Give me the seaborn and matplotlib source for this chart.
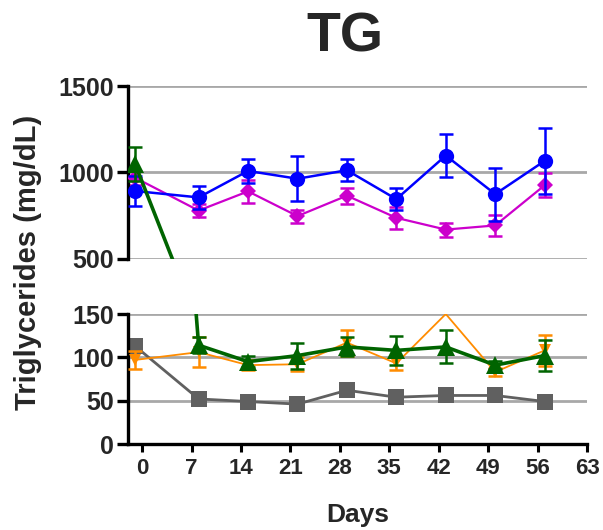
import numpy as np
import pandas as pd
import matplotlib
matplotlib.use("Agg")
import matplotlib.pyplot as plt
import seaborn as sns

# Sampling days and group means / error values (mg/dL)
days = [-1, 8, 15, 22, 29, 36, 43, 50, 57]

gray_mean = [113, 52, 49, 46, 62, 54, 56, 56, 49]
gray_err = [5, 3, 3, 3, 4, 3, 3, 3, 3]

orange_mean = [97, 106, 91, 92, 117, 93, 150, 83, 108]
orange_err = [10, 17, 6, 8, 15, 8, np.nan, 5, 18]

green_mean = [1050, 114, 95, 102, 112, 108, 112, 91, 102]
green_err = [97, 9, 6, 15, 11, 17, 19, 5, 18]

blue_mean = [893, 856, 1009, 964, 1013, 846, 1098, 875, 1067]
blue_err = [85, 65, 70, 130, 65, 62, 123, 153, 189]

magenta_mean = [970, 780, 891, 748, 866, 738, 670, 694, 926]
magenta_err = [40, 40, 68, 38, 46, 63, 40, 63, 70]

x_ticks = [0, 7, 14, 21, 28, 35, 42, 49, 56, 63]
top_ticks = [500, 1000, 1500]
bottom_ticks = [0, 50, 100, 150]

sns.set_theme(style="white")
plt.rcParams["font.family"] = ["Liberation Sans", "DejaVu Sans"]
plt.rcParams["font.weight"] = "bold"

series = [
    dict(name="gray", mean=gray_mean, err=gray_err, color="#606060", marker="s", ms=11.5, lw=2.0, z=2),
    dict(name="magenta", mean=magenta_mean, err=magenta_err, color="#CC00CC", marker="D", ms=8, lw=1.6, z=3),
    dict(name="blue", mean=blue_mean, err=blue_err, color="#0000FF", marker="o", ms=11, lw=1.8, z=4),
    dict(name="orange", mean=orange_mean, err=orange_err, color="#FF8C00", marker="v", ms=9, lw=1.3, z=5),
    dict(name="green", mean=green_mean, err=green_err, color="#006400", marker="^", ms=12.5, lw=2.6, z=6),
]

fig = plt.figure(figsize=(6.03, 5.30), dpi=100)
W, H = 603, 530
ax_top = fig.add_axes([128 / W, 1 - 259 / H, 459 / W, 173 / H])
ax_bot = fig.add_axes([128 / W, 1 - 444 / H, 459 / W, 130 / H])

for ax, (lo, hi), ticks in [(ax_top, (500, 1500), top_ticks), (ax_bot, (0, 150), bottom_ticks)]:
    for s in series:
        df = pd.DataFrame({"day": days, "value": s["mean"]})
        # markers only for points lying inside this panel's range
        visible = [i for i, v in enumerate(s["mean"]) if lo <= v < hi]
        sns.lineplot(data=df, x="day", y="value", ax=ax, color=s["color"],
                     marker=s["marker"], markersize=s["ms"], markeredgewidth=0,
                     linewidth=s["lw"], zorder=s["z"], markevery=visible,
                     estimator=None, sort=False)
        ax.errorbar(days, s["mean"], yerr=s["err"], fmt="none", ecolor=s["color"],
                    elinewidth=1.8, capsize=5, capthick=1.8, zorder=s["z"] - 0.5)
    ax.set_ylim(lo, hi)
    ax.set_xlim(-2.0, 63)
    ax.set_yticks(ticks)
    ax.set_yticklabels([str(t) for t in ticks], fontsize=18, fontweight="bold")
    for t in ticks:
        ax.axhline(t, color="#A8A8A8", lw=2.0, zorder=1)
    ax.set_xlabel("")
    ax.set_ylabel("")
    ax.grid(False)
    for side in ["top", "right"]:
        ax.spines[side].set_visible(False)
    ax.spines["left"].set_linewidth(2.4)
    ax.spines["left"].set_color("black")
    ax.tick_params(axis="y", direction="out", length=8, width=2.4, color="black", pad=2, left=True)
    ax.set_facecolor("none")

ax_top.spines["bottom"].set_visible(False)
ax_top.set_xticks([])
ax_top.tick_params(axis="x", bottom=False, labelbottom=False)

ax_bot.spines["bottom"].set_linewidth(2.4)
ax_bot.spines["bottom"].set_color("black")
ax_bot.set_xticks(x_ticks)
ax_bot.set_xticklabels([str(t) for t in x_ticks], fontsize=16, fontweight="bold")
ax_bot.tick_params(axis="x", direction="out", length=6, width=2.2, color="black", pad=4, bottom=True)

fig.text(345 / W, 1 - 37 / H, "TG", ha="center", va="center", fontsize=40, fontweight="bold")
fig.text(28 / W, 1 - 262 / H, "Triglycerides (mg/dL)", ha="center", va="center",
         rotation=90, fontsize=21, fontweight="bold")
fig.text(358 / W, 1 - 515 / H, "Days", ha="center", va="center", fontsize=19, fontweight="bold")

fig.savefig("out.png", dpi=100, facecolor="white")
